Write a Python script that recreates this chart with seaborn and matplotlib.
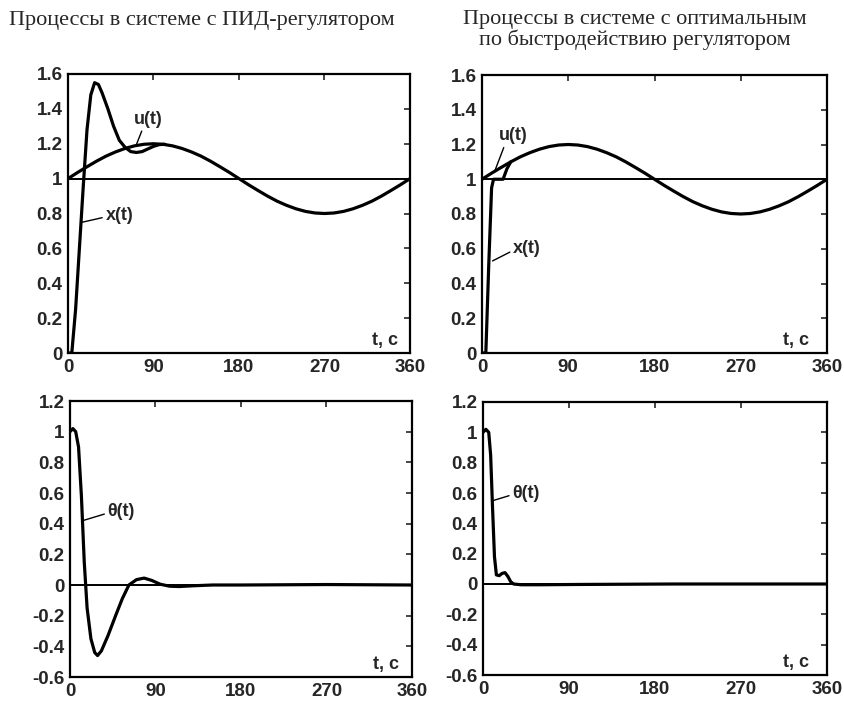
import matplotlib
matplotlib.use("Agg")
import matplotlib.pyplot as plt
import seaborn as sns
import pandas as pd

# setpoint u(t), common to both upper panels (read every 10 s)
u_t = list(range(0, 361, 10))
u_vals = [1.00, 1.035, 1.068, 1.10, 1.129, 1.153, 1.173, 1.188, 1.197, 1.20,
          1.197, 1.188, 1.173, 1.153, 1.129, 1.10, 1.068, 1.035, 1.00,
          0.965, 0.932, 0.90, 0.871, 0.847, 0.827, 0.812, 0.803, 0.80,
          0.803, 0.812, 0.827, 0.847, 0.871, 0.90, 0.932, 0.965, 1.00]

# x(t) transient with PID controller (afterwards it lies on u(t))
x_pid_t = [0, 4, 8, 12, 16, 20, 24, 28, 32, 36, 42, 48, 54, 60, 66, 72, 78, 84, 90, 96, 102]
x_pid = [0.0, 0.0, 0.25, 0.6, 0.95, 1.28, 1.48, 1.55, 1.54, 1.49, 1.40, 1.30, 1.22,
         1.18, 1.155, 1.15, 1.155, 1.17, 1.185, 1.195, 1.197]

# x(t) transient with time-optimal controller
x_opt_t = [0, 4, 7, 10, 12, 22, 26, 30]
x_opt = [0.0, 0.0, 0.5, 0.95, 1.0, 1.0, 1.06, 1.10]

# error theta(t)
th_pid_t = [0, 3, 6, 9, 12, 15, 18, 22, 26, 29, 33, 40, 48, 55, 62, 70, 78, 86, 95,
            105, 115, 130, 150, 180, 270, 360]
th_pid = [1.0, 1.02, 1.0, 0.9, 0.58, 0.15, -0.15, -0.35, -0.44, -0.46, -0.43, -0.33,
          -0.2, -0.09, 0.0, 0.035, 0.045, 0.03, 0.005, -0.008, -0.01, -0.005, 0.0,
          0.0, 0.003, 0.0]
th_opt_t = [0, 3, 6, 8, 10, 12, 14, 17, 20, 23, 26, 29, 32, 40, 60, 100, 200, 360]
th_opt = [1.0, 1.02, 1.0, 0.85, 0.5, 0.18, 0.06, 0.055, 0.07, 0.075, 0.05, 0.015,
          0.0, -0.005, -0.005, -0.003, 0.0, 0.0]

x_ticks = [0, 90, 180, 270, 360]
y_ticks_top = [0, 0.2, 0.4, 0.6, 0.8, 1, 1.2, 1.4, 1.6]
y_ticks_bot = [-0.6, -0.4, -0.2, 0, 0.2, 0.4, 0.6, 0.8, 1, 1.2]

titles = ["Процессы в системе с ПИД-регулятором",
          "Процессы в системе с оптимальным\nпо быстродействию регулятором"]

sns.set_style("white")
plt.rcParams["font.family"] = ["Liberation Sans", "DejaVu Sans"]

fig = plt.figure(figsize=(8.45, 7.02), dpi=100)
boxes = [
    [68 / 845, 349 / 702, 342 / 845, 279 / 702],
    [482 / 845, 349 / 702, 345 / 845, 278 / 702],
    [70 / 845, 25 / 702, 342 / 845, 276 / 702],
    [483 / 845, 27 / 702, 344 / 845, 273 / 702],
]
axes = [fig.add_axes(b) for b in boxes]

LW = 2.3
bold = dict(fontweight="bold", fontsize=13, family="Liberation Sans")
leader = dict(arrowstyle="-", lw=1, color="black", shrinkA=0, shrinkB=0,
              relpos=(0, 0.4))


def style(ax, yticks, ylim):
    ax.set_xlim(0, 360)
    ax.set_ylim(*ylim)
    ax.set_xticks(x_ticks)
    ax.set_yticks(yticks)
    ax.set_xticklabels([f"{v:g}" for v in x_ticks])
    ax.set_yticklabels([f"{v:g}" for v in yticks])
    ax.tick_params(direction="in", length=4, width=1.2, top=True, right=True,
                   labelsize=13.5, pad=4)
    for lab in ax.get_xticklabels() + ax.get_yticklabels():
        lab.set_fontweight("bold")
    for sp in ax.spines.values():
        sp.set_linewidth(1.6)
        sp.set_color("black")
    ax.set_xlabel("")
    ax.set_ylabel("")
    ax.grid(False)


def curve(ax, t, v):
    df = pd.DataFrame({"t": t, "v": v})
    sns.lineplot(data=df, x="t", y="v", ax=ax, color="black", lw=LW,
                 estimator=None, sort=False)


# top left: PID
ax = axes[0]
ax.axhline(1, color="black", lw=1.4)
curve(ax, u_t, u_vals)
curve(ax, x_pid_t, x_pid)
style(ax, y_ticks_top, (0, 1.6))
ax.annotate("u(t)", xy=(72, 1.195), xytext=(85, 1.34), ha="center", va="center",
            arrowprops=dict(leader, relpos=(0.3, 0)), **bold)
ax.annotate("x(t)", xy=(15, 0.75), xytext=(54, 0.79), ha="center", va="center",
            arrowprops=leader, **bold)
ax.text(334, 0.07, "t, c", ha="center", va="center", **bold)

# top right: time-optimal
ax = axes[1]
ax.axhline(1, color="black", lw=1.4)
curve(ax, u_t, u_vals)
curve(ax, x_opt_t, x_opt)
style(ax, y_ticks_top, (0, 1.6))
ax.annotate("u(t)", xy=(13.5, 1.05), xytext=(33, 1.25), ha="center", va="center",
            arrowprops=dict(leader, relpos=(0.2, 0)), **bold)
ax.annotate("x(t)", xy=(11, 0.53), xytext=(47, 0.60), ha="center", va="center",
            arrowprops=leader, **bold)
ax.text(328, 0.07, "t, c", ha="center", va="center", **bold)

# bottom left: theta PID
ax = axes[2]
ax.axhline(0, color="black", lw=1.4)
curve(ax, th_pid_t, th_pid)
style(ax, y_ticks_bot, (-0.6, 1.2))
ax.annotate("θ(t)", xy=(13.5, 0.42), xytext=(54, 0.48), ha="center", va="center",
            arrowprops=leader, **bold)
ax.text(333, -0.52, "t, c", ha="center", va="center", **bold)

# bottom right: theta time-optimal
ax = axes[3]
ax.axhline(0, color="black", lw=1.4)
curve(ax, th_opt_t, th_opt)
style(ax, y_ticks_bot, (-0.6, 1.2))
ax.annotate("θ(t)", xy=(10.5, 0.55), xytext=(45, 0.60), ha="center", va="center",
            arrowprops=leader, **bold)
ax.text(328, -0.52, "t, c", ha="center", va="center", **bold)

fig.text(202 / 845, 1 - 21 / 702, titles[0], ha="center", va="center",
         fontsize=16, family="Liberation Serif")
fig.text(635 / 845, 1 - 30 / 702, titles[1], ha="center", va="center",
         fontsize=16, family="Liberation Serif", linespacing=1.0)

fig.savefig("out.png", dpi=100)
